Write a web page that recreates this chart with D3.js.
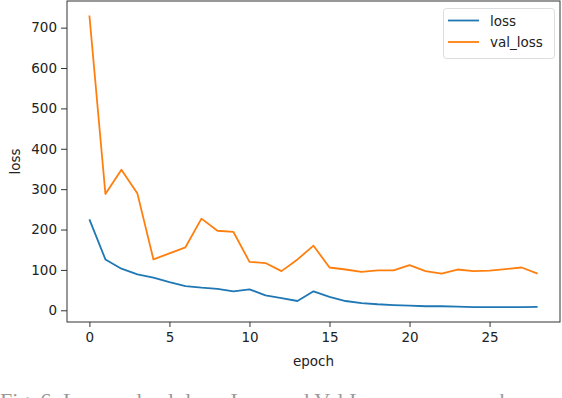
<!DOCTYPE html>
<html>
<head>
<meta charset="utf-8">
<script src="https://cdn.jsdelivr.net/npm/d3@7"></script>
<style>
  body { margin: 0; background: #fff; }
  svg { display: block; font-family: "DejaVu Sans", sans-serif; }
</style>
</head>
<body>
<svg id="chart" width="562" height="398"></svg>
<script>
// values
const epochs = d3.range(0, 29);
const loss = [225, 126, 103, 89, 81, 70, 60, 56, 53, 47, 52, 37, 30, 23, 47, 33, 23, 18, 15, 13, 11.5, 10, 10, 9, 8, 8, 8, 8, 8.5];
const valLoss = [730, 288, 348, 289, 126, 141, 156, 227, 197, 194, 120, 117, 97, 126, 160, 106, 101, 95, 99, 99, 112, 97, 91, 101, 97, 98, 102, 106, 91];
const xTicks = [0, 5, 10, 15, 20, 25];
const yTicks = [0, 100, 200, 300, 400, 500, 600, 700];
const seriesNames = ["loss", "val_loss"];
const colors = ["#1f77b4", "#ff7f0e"];

const svg = d3.select("#chart");
const pl = 67, pr = 560, pt = 1, pb = 322;
const fs = 13.5;

const x = d3.scaleLinear().domain([-1.4, 29.4]).range([pl, pr]);
const y = d3.scaleLinear().domain([-29, 766]).range([pb, pt]);

// frame
svg.append("rect")
  .attr("x", pl).attr("y", pt)
  .attr("width", pr - pl).attr("height", pb - pt)
  .attr("fill", "none").attr("stroke", "#333").attr("stroke-width", 1);

// x axis
const xAxis = svg.append("g")
  .attr("transform", `translate(0,${pb})`)
  .call(d3.axisBottom(x).tickValues(xTicks).tickSize(5).tickSizeOuter(0).tickPadding(5));
xAxis.select(".domain").remove();
xAxis.selectAll("line").attr("stroke", "#333");
xAxis.selectAll("text").style("font-size", fs + "px").style("font-family", "DejaVu Sans").attr("fill", "#222");

// y axis
const yAxis = svg.append("g")
  .attr("transform", `translate(${pl},0)`)
  .call(d3.axisLeft(y).tickValues(yTicks).tickSize(6).tickSizeOuter(0).tickPadding(4));
yAxis.select(".domain").remove();
yAxis.selectAll("line").attr("stroke", "#333");
yAxis.selectAll("text").style("font-size", fs + "px").style("font-family", "DejaVu Sans").attr("fill", "#222");

// axis labels
svg.append("text")
  .attr("x", (pl + pr) / 2).attr("y", 366)
  .attr("text-anchor", "middle").style("font-size", fs + "px").attr("fill", "#222")
  .text("epoch");
svg.append("text")
  .attr("transform", `translate(20,${(pt + pb) / 2}) rotate(-90)`)
  .attr("text-anchor", "middle").style("font-size", fs + "px").attr("fill", "#222")
  .text("loss");

// lines
const line = d3.line().x((d, i) => x(epochs[i])).y(d => y(d));
[loss, valLoss].forEach((s, k) => {
  svg.append("path")
    .datum(s)
    .attr("d", line)
    .attr("fill", "none")
    .attr("stroke", colors[k])
    .attr("stroke-width", 1.8)
    .attr("stroke-linejoin", "round");
});

// legend
const lg = svg.append("g");
lg.append("rect")
  .attr("x", 443.5).attr("y", 8.5).attr("width", 111).attr("height", 50)
  .attr("rx", 3).attr("fill", "#fff").attr("stroke", "#ddd");
seriesNames.forEach((n, k) => {
  const ly = 20.5 + k * 21.5;
  lg.append("line")
    .attr("x1", 448).attr("x2", 479).attr("y1", ly).attr("y2", ly)
    .attr("stroke", colors[k]).attr("stroke-width", 1.8);
  lg.append("text")
    .attr("x", 490).attr("y", ly + 5)
    .style("font-size", fs + "px").attr("fill", "#222")
    .text(n);
});

// figure caption, cut by the bottom edge as in the reference
svg.append("text")
  .attr("x", 0).attr("y", 408)
  .style("font-family", "'Liberation Serif', serif").style("font-size", "22px")
  .attr("fill", "#999")
  .text("Fig. 6: Loss and val_loss. Loss and Val Loss versus epochs");
</script>
</body>
</html>
